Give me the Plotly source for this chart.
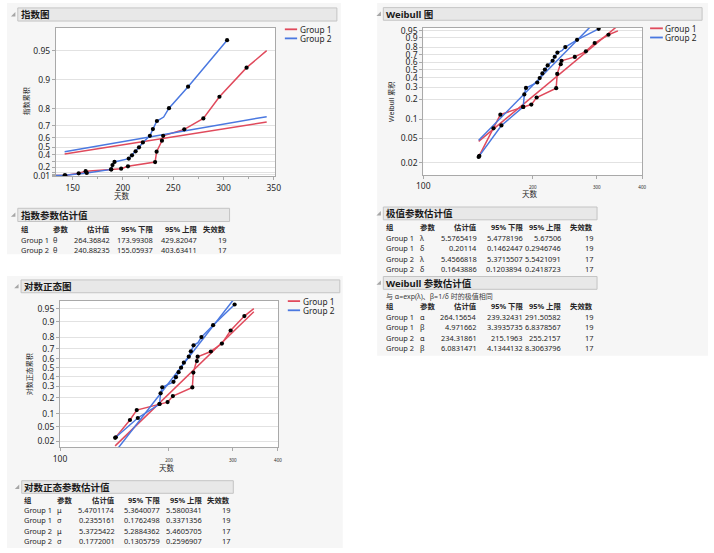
import math
from statistics import NormalDist
import plotly.graph_objects as go

# ---------------- data ----------------
group_names = ["Group 1", "Group 2"]

# nonparametric failure-probability points: days and cumulative probability
g1_days = [142.0, 156.0, 162.9, 188.3, 198.2, 205.0, 232.0, 233.5, 238.8, 240.0, 261.0, 280.0, 296.0, 323.0, 343.0]
g1_prob = [0.025, 0.072, 0.118, 0.155, 0.168, 0.214, 0.29, 0.445, 0.573, 0.62, 0.674, 0.749, 0.85, 0.925, 0.95]
g1_dot = [1, 1, 1, 1, 1, 1, 1, 1, 1, 1, 1, 1, 1, 1, 0]   # 0 = vertex drawn without a dot

g2_days = [142.6, 164.0, 188.3, 189.6, 191.6, 205.8, 209.0, 212.6, 216.0, 219.8, 226.8, 229.8, 233.8, 240.5, 245.8, 264.8, 303.6]
g2_prob = [0.026, 0.08, 0.155, 0.237, 0.292, 0.346, 0.395, 0.45, 0.50, 0.555, 0.62, 0.676, 0.733, 0.757, 0.803, 0.882, 0.961]
g2_dot = [1, 1, 1, 1, 1, 1, 1, 1, 1, 1, 1, 1, 1, 0, 1, 1, 1]

# 指数参数估计值
exp_groups = ["Group 1", "Group 2"]
exp_params = ["θ", "θ"]
exp_est = [264.36842, 240.88235]
exp_lower = [173.99308, 155.05937]
exp_upper = [429.82047, 403.63411]
exp_fail = [19, 17]

# 极值参数估计值
ev_groups = ["Group 1", "Group 1", "Group 2", "Group 2"]
ev_params = ["λ", "δ", "λ", "δ"]
ev_est = [5.5765419, 0.20114, 5.4566818, 0.1643886]
ev_lower = [5.4778196, 0.1462447, 5.3715507, 0.1203894]
ev_upper = [5.67506, 0.2946746, 5.5421091, 0.2418723]
ev_fail = [19, 19, 17, 17]

# Weibull 参数估计值
wb_groups = ["Group 1", "Group 1", "Group 2", "Group 2"]
wb_params = ["α", "β", "α", "β"]
wb_est = [264.15654, 4.971662, 234.31861, 6.0831471]
wb_lower = [239.32431, 3.3935735, 215.1963, 4.1344132]
wb_upper = [291.50582, 6.8378567, 255.2157, 8.3063796]
wb_fail = [19, 19, 17, 17]
wb_note = "与 α=exp(λ)、β=1/δ 时的极值相同"

# 对数正态参数估计值
ln_groups = ["Group 1", "Group 1", "Group 2", "Group 2"]
ln_params = ["μ", "σ", "μ", "σ"]
ln_est = [5.4701174, 0.2355161, 5.3725422, 0.1772001]
ln_lower = [5.3640077, 0.1762498, 5.2884362, 0.1305759]
ln_upper = [5.5800341, 0.3371356, 5.4605705, 0.2596907]
ln_fail = [19, 19, 17, 17]

table_headers = ["组", "参数", "估计值", "95% 下限", "95% 上限", "失效数"]

# axis ticks
exp_grid_probs = [0.01, 0.02, 0.05, 0.1, 0.2, 0.3, 0.4, 0.5, 0.6, 0.7, 0.8, 0.9, 0.95]
exp_label_probs = [0.01, 0.2, 0.4, 0.5, 0.6, 0.7, 0.8, 0.9, 0.95]
prob_ticks = [0.02, 0.05, 0.1, 0.2, 0.3, 0.4, 0.5, 0.6, 0.7, 0.8, 0.9, 0.95]
exp_day_ticks = [150, 200, 250, 300, 350]
log_day_ticks = [100, 200, 300, 400]

# ---------------- styling ----------------
W, H = 714, 553
FONT = "Segoe UI, Noto Sans, Noto Sans CJK SC, sans-serif"
TXT = "#262626"
FRAME = "#a9a9a9"
GRID = "#e2e2e2"
RED = "#e04a5c"
BLUE = "#4a78e0"
COLORS = [RED, BLUE]
SECTION_BG = "#f6f6f6"
BAR_BG = "#e8e8e8"
BAR_LINE = "#c4c4c4"
TICK_SIZE = 8.5
TABLE_SIZE = 7.4


def px(x):
    return x / W


def py(y):
    return 1 - y / H


nd = NormalDist()


def t_exp(p):
    return -math.log(1 - p)


def t_wb(p):
    return math.log(-math.log(1 - p))


def t_ln(p):
    return nd.inv_cdf(p)


groups = [(g1_days, g1_prob, g1_dot), (g2_days, g2_prob, g2_dot)]
all_days = g1_days + g2_days
fit_days = [min(all_days), max(all_days)]

fig = go.Figure()

for gi, (days, probs, dots) in enumerate(groups):
    col = COLORS[gi]
    # ---- exponential plot ----
    theta = exp_est[gi]
    fig.add_trace(go.Scatter(x=fit_days, y=[d / theta for d in fit_days], mode="lines",
                             line=dict(color=col, width=1.5), xaxis="x", yaxis="y", hoverinfo="skip"))
    fig.add_trace(go.Scatter(x=[0] + days, y=[0] + [t_exp(p) for p in probs], mode="lines",
                             line=dict(color=col, width=1.5), xaxis="x", yaxis="y", hoverinfo="skip"))
    # ---- weibull plot ----
    alpha, beta = wb_est[2 * gi], wb_est[2 * gi + 1]
    fig.add_trace(go.Scatter(x=fit_days, y=[beta * (math.log(d) - math.log(alpha)) for d in fit_days],
                             mode="lines", line=dict(color=col, width=1.5), xaxis="x2", yaxis="y2", hoverinfo="skip"))
    fig.add_trace(go.Scatter(x=days, y=[t_wb(p) for p in probs], mode="lines",
                             line=dict(color=col, width=1.5), xaxis="x2", yaxis="y2", hoverinfo="skip"))
    # ---- lognormal plot ----
    mu, sigma = ln_est[2 * gi], ln_est[2 * gi + 1]
    fig.add_trace(go.Scatter(x=fit_days, y=[(math.log(d) - mu) / sigma for d in fit_days],
                             mode="lines", line=dict(color=col, width=1.5), xaxis="x3", yaxis="y3", hoverinfo="skip"))
    fig.add_trace(go.Scatter(x=days, y=[t_ln(p) for p in probs], mode="lines",
                             line=dict(color=col, width=1.5), xaxis="x3", yaxis="y3", hoverinfo="skip"))

# dots on top
for gi, (days, probs, dots) in enumerate(groups):
    dd = [d for d, k in zip(days, dots) if k]
    pp = [p for p, k in zip(probs, dots) if k]
    mk = dict(color="black", size=4.2)
    fig.add_trace(go.Scatter(x=dd, y=[t_exp(p) for p in pp], mode="markers", marker=mk,
                             xaxis="x", yaxis="y", hoverinfo="skip"))
    fig.add_trace(go.Scatter(x=dd, y=[t_wb(p) for p in pp], mode="markers", marker=mk,
                             xaxis="x2", yaxis="y2", hoverinfo="skip"))
    fig.add_trace(go.Scatter(x=dd, y=[t_ln(p) for p in pp], mode="markers", marker=mk,
                             xaxis="x3", yaxis="y3", hoverinfo="skip"))

# ---------------- axes ----------------
base_x = dict(showgrid=False, zeroline=False, showline=True, linecolor=FRAME, linewidth=1, mirror=True,
              ticks="outside", ticklen=3, tickcolor=FRAME, tickfont=dict(size=TICK_SIZE, color=TXT, family=FONT))
base_y = dict(showgrid=True, gridcolor=GRID, gridwidth=1.2, zeroline=False, showline=True, linecolor=FRAME,
              linewidth=1, mirror=True, ticks="outside", ticklen=3, tickcolor=FRAME,
              tickfont=dict(size=TICK_SIZE, color=TXT, family=FONT))

small = "<span style='font-size:4.5px'>%s</span>"
log_ticktext = [str(v) if i == 0 else small % v for i, v in enumerate(log_day_ticks)]

fig.update_layout(
    xaxis=dict(base_x, domain=[px(49.8), px(273)], range=[133.3, 351.3], anchor="y",
               tickmode="array", tickvals=exp_day_ticks, ticktext=[str(v) for v in exp_day_ticks],
               minor=dict(ticks="outside", ticklen=2, tickvals=[175, 225, 275, 325], tickcolor=FRAME)),
    yaxis=dict(base_y, domain=[py(176), py(25.3)], range=[0, 3.536], anchor="x",
               tickmode="array", tickvals=[t_exp(p) for p in exp_grid_probs],
               ticktext=[str(p) if p in exp_label_probs else "" for p in exp_grid_probs]),
    xaxis2=dict(base_x, domain=[px(424), px(647)], type="log", range=[2, math.log10(400)], anchor="y2",
                tickmode="array", tickvals=log_day_ticks, ticktext=log_ticktext),
    yaxis2=dict(base_y, domain=[py(174.5), py(25)], range=[-4.36, 1.222], anchor="x2",
                tickmode="array", tickvals=[t_wb(p) for p in prob_ticks], ticktext=[str(p) for p in prob_ticks]),
    xaxis3=dict(base_x, domain=[px(54), px(276)], type="log", range=[2, math.log10(400)], anchor="y3",
                tickmode="array", tickvals=log_day_ticks, ticktext=log_ticktext),
    yaxis3=dict(base_y, domain=[py(451), py(302)], range=[-2.228, 1.87], anchor="x3",
                tickmode="array", tickvals=[t_ln(p) for p in prob_ticks], ticktext=[str(p) for p in prob_ticks]),
)

# ---------------- shapes: section backgrounds, plot backgrounds, header bars ----------------
shapes = []


def rect(x0, y0, x1, y1, fill, line=None, lw=0):
    shapes.append(dict(type="rect", xref="paper", yref="paper", x0=px(x0), x1=px(x1), y0=py(y1), y1=py(y0),
                       fillcolor=fill, line=dict(color=line or fill, width=lw), layer="below"))


rect(0, 0, 340, 255, SECTION_BG)
rect(377, 0, 714, 358, SECTION_BG)
rect(0, 277, 342, 553, SECTION_BG)
for xa, ya in [("x", "y"), ("x2", "y2"), ("x3", "y3")]:
    shapes.append(dict(type="rect", xref=xa + " domain", yref=ya + " domain", x0=0, x1=1, y0=0, y1=1,
                       fillcolor="white", line=dict(width=0), layer="below"))

annotations = []


def ann(x, y, text, size=8, anchor="left", bold=False, color=TXT, angle=0):
    if bold:
        text = "<b>" + text + "</b>"
    annotations.append(dict(x=px(x), y=py(y), xref="paper", yref="paper", text=text, showarrow=False,
                            xanchor=anchor, yanchor="middle", textangle=angle, borderpad=0,
                            font=dict(size=size, color=color, family=FONT)))


def header(x0, x1, y0, y1, title):
    rect(x0, y0, x1, y1, BAR_BG, BAR_LINE, 1)
    yc = (y0 + y1) / 2
    tx0, tx1, ty0, ty1 = x0 - 7, x0 - 2.5, yc - 2.5, yc + 2
    shapes.append(dict(type="path", xref="paper", yref="paper",
                       path="M %f,%f L %f,%f L %f,%f Z" % (px(tx0), py(ty1), px(tx1), py(ty1), px(tx1), py(ty0)),
                       fillcolor="#a6a6a6", line=dict(width=0), layer="below"))
    ann(x0 + 1.8, yc + 0.3, title, size=9.5, bold=True, color="#1a1a1a")


header(11, 336, 5, 18.3, "指数图")
header(11, 226.7, 208.3, 221.7, "指数参数估计值")
header(14.3, 339, 281, 294, "对数正态图")
header(15, 230.5, 484.7, 497.5, "对数正态参数估计值")
header(383.3, 708, 4.7, 17.5, "Weibull 图")
header(383.3, 601, 207, 220, "极值参数估计值")
header(383.3, 601, 277.5, 290.5, "Weibull 参数估计值")

# ---------------- legends ----------------
def legend(x_line0, x_line1, ys):
    for gi, yv in enumerate(ys):
        shapes.append(dict(type="line", xref="paper", yref="paper", x0=px(x_line0), x1=px(x_line1),
                           y0=py(yv), y1=py(yv), line=dict(color=COLORS[gi], width=1.8)))
        ann(x_line1 + 1.5, yv, group_names[gi], size=8.3)


legend(283, 295.5, [26.7, 35.9])
legend(655, 668, [25.7, 35.0])
legend(286, 298.5, [302.5, 311.8])

# ---------------- axis titles ----------------
ann(117, 195.5, "天数", size=7.5, anchor="center")
ann(533, 193.5, "天数", size=7.5, anchor="center")
ann(163.3, 472, "天数", size=7.5, anchor="center")
ann(20, 100, "指数累积", size=7, anchor="center", angle=-90)
ann(391.5, 100, "Weibull 累积", size=7, anchor="center", angle=-90)
ann(23, 377, "对数正态累积", size=7, anchor="center", angle=-90)

# ---------------- tables ----------------
def table(xg, xp, rights, y_head, row_h, grp, par, est, lo, hi, fail):
    ann(xg, y_head, table_headers[0], size=TABLE_SIZE, bold=True)
    ann(xp, y_head, table_headers[1], size=TABLE_SIZE, bold=True)
    for ci in range(4):
        ann(rights[ci], y_head, table_headers[2 + ci], size=TABLE_SIZE, anchor="right", bold=True)
    for ri in range(len(grp)):
        yv = y_head + row_h * (ri + 1)
        ann(xg, yv, grp[ri], size=TABLE_SIZE)
        ann(xp, yv, par[ri], size=TABLE_SIZE)
        for ci, vals in enumerate([est, lo, hi, fail]):
            ann(rights[ci], yv, str(vals[ri]), size=TABLE_SIZE, anchor="right")


table(13.3, 45.7, [106, 149.3, 194.3, 224], 229.5, 10.5,
      exp_groups, exp_params, exp_est, exp_lower, exp_upper, exp_fail)
table(385, 420, [480, 526.5, 565, 597.7], 227.5, 10.6,
      ev_groups, ev_params, ev_est, ev_lower, ev_upper, ev_fail)
ann(385, 297.5, wb_note, size=7, color="#404040")
table(385, 420, [480, 526.5, 565, 597.7], 307.8, 10.6,
      wb_groups, wb_params, wb_est, wb_lower, wb_upper, wb_fail)
table(16.7, 50, [111, 156.7, 200, 227.7], 504, 10.5,
      ln_groups, ln_params, ln_est, ln_lower, ln_upper, ln_fail)

fig.update_layout(width=W, height=H, margin=dict(l=0, r=0, t=0, b=0), autosize=False,
                  paper_bgcolor="white", plot_bgcolor="white", showlegend=False,
                  font=dict(family=FONT, size=9, color=TXT),
                  shapes=shapes, annotations=annotations)

fig.write_html("out.html", config={"displayModeBar": False},
               post_script="document.body.style.margin='0px';")
